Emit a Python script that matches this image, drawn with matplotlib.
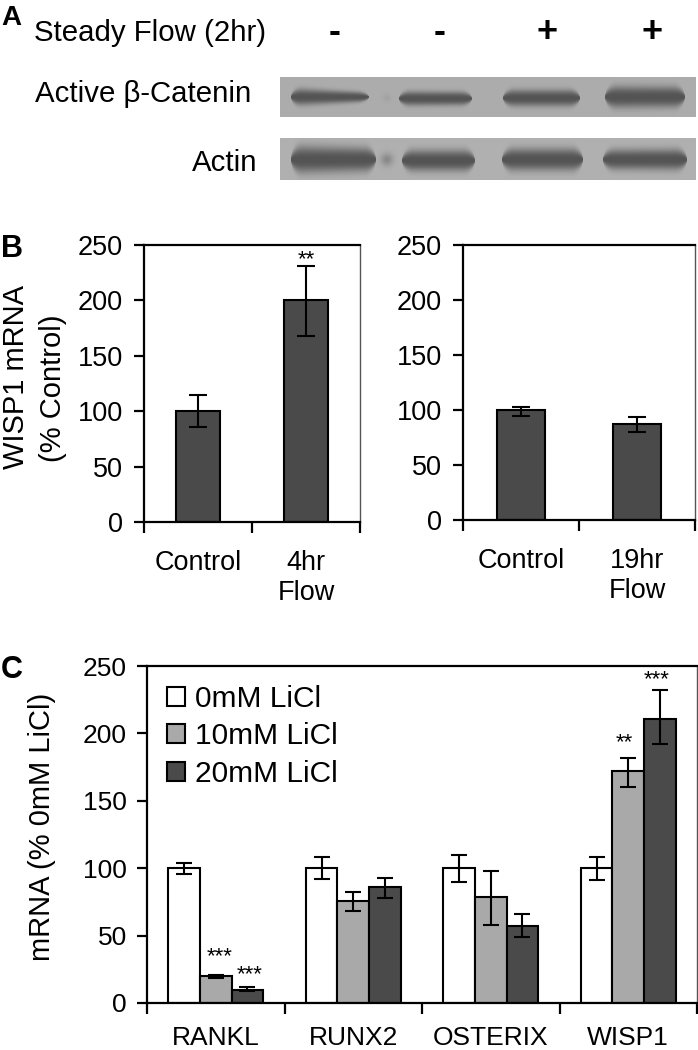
import matplotlib
matplotlib.use("Agg")
import matplotlib.pyplot as plt
import numpy as np
from matplotlib.patches import Patch

plt.rcParams['font.family'] = ['Liberation Sans', 'DejaVu Sans']

W, H = 698, 1050

# panel A, western blot bands: x start, x end, y centre, half thickness left, right
beta_bands = [(291, 369, 97, 8.5, 4.5), (399, 472, 98.5, 7, 6.5), (503, 580, 98, 8, 8), (605, 685, 97, 10.5, 10)]
actin_bands = [(291, 376, 160, 13, 11), (402, 475, 161, 10, 10), (502, 583, 160, 10.5, 10.5), (603, 687, 160, 9.5, 10)]
# faint smudge between the first two lanes: x, y, radius, depth
beta_smudge = (387, 98, 4, 10)
actin_smudge = (387, 160, 6, 40)
flow_signs = ['-', '-', '+', '+']
sign_x = [335, 440, 547, 652]

# panel B
left_labels = ['Control', '4hr\nFlow']
left_vals = [100, 200]
left_low = [85.5, 168]
left_high = [115, 231]
right_labels = ['Control', '19hr\nFlow']
right_vals = [100, 87]
right_low = [95, 80]
right_high = [103, 94]

# panel C
genes = ['RANKL', 'RUNX2', 'OSTERIX', 'WISP1']
li0_vals = [100, 100, 100, 100]
li0_low = [96, 92, 90, 91]
li0_high = [104, 108, 110, 108]
li10_vals = [20, 76, 78.5, 172]
li10_low = [18.5, 68, 58, 160]
li10_high = [21, 82, 98, 182]
li20_vals = [10, 86, 57, 211]
li20_low = [9, 78, 49, 192]
li20_high = [11.5, 93, 66, 232]
li_names = ['0mM LiCl', '10mM LiCl', '20mM LiCl']
li_colors = ['white', '#a9a9a9', '#4a4a4a']

fig = plt.figure(figsize=(W / 100, H / 100), dpi=100)


def px_axes(l, t, r, b):
    return fig.add_axes([l / W, 1 - b / H, (r - l) / W, (b - t) / H])


def ftext(x, y, s, **kw):
    return fig.text(x / W, 1 - y / H, s, **kw)


def blot(l, t, r, b, bands, smudge, bg):
    ax = px_axes(l, t, r, b)
    xx, yy = np.meshgrid(np.arange(l, r) + 0.5, np.arange(t, b) + 0.5)
    img = np.full(xx.shape, bg, dtype=float)
    for x0, x1, yc, th0, th1 in bands:
        frac = np.clip((xx - x0) / (x1 - x0), 0, 1)
        th = th0 + (th1 - th0) * frac
        # round the band ends off
        a = np.clip((xx - x0) / 12, 0, 1)
        c = np.clip((x1 - xx) / 12, 0, 1)
        ends = np.sqrt(1 - (1 - a) ** 2) * np.sqrt(1 - (1 - c) ** 2)
        across = np.exp(-(np.abs(yy - yc) / (th * ends + 0.01)) ** 2.6)
        img -= (bg - 84) * across * (ends > 0)
    sx, sy, sr, depth = smudge
    img -= depth * np.exp(-((xx - sx) ** 2 + (yy - sy) ** 2) / sr ** 2)
    ax.imshow(img, cmap='gray', vmin=0, vmax=255, aspect='auto', interpolation='bilinear')
    ax.axis('off')


def style(ax, edges, centres, labels, size, ypad, xpad):
    ax.set_ylim(0, 250)
    ax.set_yticks(range(0, 251, 50))
    ax.tick_params(axis='y', length=7.5, width=1.6, labelsize=size, pad=ypad)
    ax.set_xticks(edges)
    ax.set_xticklabels([])
    ax.tick_params(axis='x', length=8, width=1.6)
    ax.set_xticks(centres, labels, minor=True)
    ax.tick_params(axis='x', which='minor', length=0, labelsize=size, pad=xpad)
    for s in ['left', 'bottom', 'top']:
        ax.spines[s].set_linewidth(1.6)
    ax.spines['right'].set_linewidth(1.0)
    ax.spines['right'].set_color('#555555')


def bars(ax, x, vals, low, high, color, width, cap):
    vals = np.array(vals)
    ax.bar(x, vals, width=width, color=color, edgecolor='black', linewidth=1.5, zorder=2)
    yerr = [vals - np.array(low), np.array(high) - vals]
    ax.errorbar(x, vals, yerr=yerr, fmt='none', ecolor='black', elinewidth=1.5,
                capsize=cap, capthick=1.5, zorder=3)


# A
ftext(1, 25, 'A', fontsize=20, fontweight='bold', va='baseline')
ftext(34, 41, 'Steady Flow (2hr)', fontsize=21.2, va='baseline')
ftext(35, 102, 'Active \u03b2-Catenin', fontsize=21.2, va='baseline')
ftext(257, 171, 'Actin', fontsize=21.2, va='baseline', ha='right')
for sx, sign in zip(sign_x, flow_signs):
    ftext(sx, 42, sign, fontsize=26, fontweight='bold', va='baseline', ha='center')
blot(280, 77, 696, 117, beta_bands, beta_smudge, 172)
blot(280, 138, 696, 180, actin_bands, actin_smudge, 176)

# B
ftext(1, 257, 'B', fontsize=22, fontweight='bold', va='baseline')
ftext(16, 377, 'WISP1 mRNA', fontsize=21, rotation=90, ha='center', va='center')
ftext(53, 388, '(% Control)', fontsize=21, rotation=90, ha='center', va='center')

ax1 = px_axes(144, 245, 360, 522)
ax1.set_xlim(-0.5, 1.5)
bars(ax1, [0, 1], left_vals, left_low, left_high, '#4a4a4a', 0.41, 6.5)
style(ax1, [-0.5, 0.5, 1.5], [0, 1], left_labels, 19.5, 7.5, 20)
ax1.text(1, 232, '**', fontsize=16, ha='center', va='baseline')

ax2 = px_axes(463, 245, 695, 520)
ax2.set_xlim(-0.5, 1.5)
bars(ax2, [0, 1], right_vals, right_low, right_high, '#4a4a4a', 0.41, 6.5)
style(ax2, [-0.5, 0.5, 1.5], [0, 1], right_labels, 19.5, 7.5, 20)

# C
ftext(1, 678, 'C', fontsize=22, fontweight='bold', va='baseline')
ftext(42, 827, 'mRNA (% 0mM LiCl)', fontsize=21, rotation=90, ha='center', va='center')

ax3 = px_axes(147, 666, 697, 1003)
ax3.set_xlim(-0.5, 3.5)
g = np.arange(len(genes))
bw = 0.23
bars(ax3, g - bw, li0_vals, li0_low, li0_high, li_colors[0], bw, 6)
bars(ax3, g, li10_vals, li10_low, li10_high, li_colors[1], bw, 6)
bars(ax3, g + bw, li20_vals, li20_low, li20_high, li_colors[2], bw, 6)
style(ax3, np.arange(-0.5, 3.6), g, genes, 19, 7, 16.5)
for sx, sy, st in [(0.03, 30, '***'), (0.25, 17, '***'), (2.97, 189, '**'), (3.21, 236, '***')]:
    ax3.text(sx, sy, st, fontsize=16, ha='center', va='baseline')
handles = [Patch(facecolor=c, edgecolor='black', linewidth=1.5) for c in li_colors]
ax3.legend(handles, li_names, frameon=False, fontsize=21.5, loc='upper left',
           bbox_to_anchor=(0.036, 0.943), handlelength=0.6, handleheight=0.6,
           handletextpad=0.36, labelspacing=0.31, borderaxespad=0, borderpad=0)

fig.savefig('out.png', dpi=100)
